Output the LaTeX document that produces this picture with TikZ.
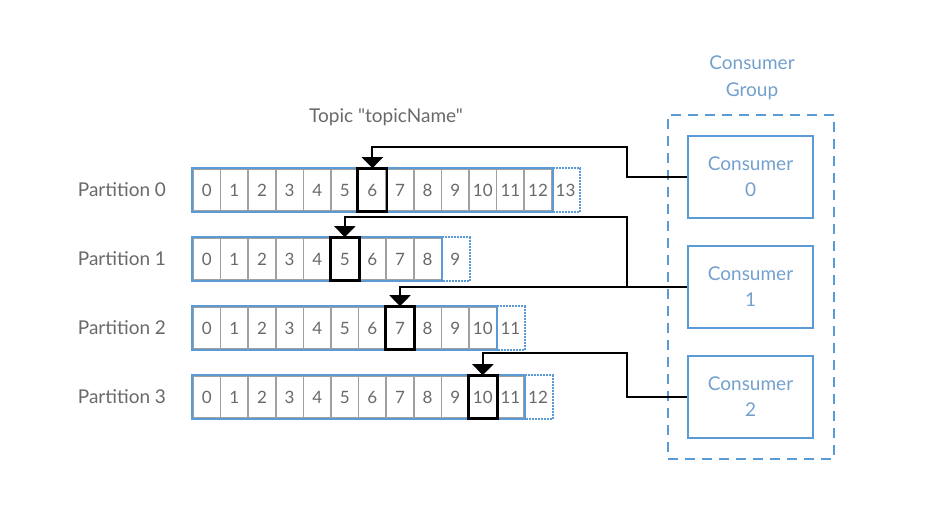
\documentclass[tikz,border=0pt]{standalone}
\usepackage{fontspec}
\setmainfont{Lato}[Ligatures=TeXOff]
\usetikzlibrary{arrows.meta,positioning}
\definecolor{kblue}{RGB}{91,155,213}
\definecolor{klight}{RGB}{115,160,205}
\definecolor{kgray}{RGB}{105,105,105}
\definecolor{kline}{RGB}{160,160,160}
\tikzset{
    cell/.style={draw=kline,line width=1.6pt,minimum width=27.6pt,minimum height=42pt,
        inner sep=0pt,text=kgray,font=\fontsize{17}{17}\selectfont},
    tailcell/.style={cell,draw=none},
    rowbox/.style={draw=kblue,line width=2pt},
    tailbox/.style={draw=kblue,line width=2pt,densely dotted},
    head/.style={draw=black,line width=2.8pt},
    link/.style={draw=black,line width=2pt},
    plabel/.style={text=kgray,inner sep=0pt,font=\fontsize{19}{19}\selectfont},
    consumer/.style={draw=kblue,line width=2.4pt,minimum width=125pt,minimum height=82pt,
        align=center,text=klight,font=\fontsize{19}{26}\selectfont},
}
\begin{document}
\begin{tikzpicture}[x=1pt,y=-1pt,>={Triangle[length=11pt,width=21pt]}]
        \useasboundingbox (0,0) rectangle (928,524);

        % partitions
        \foreach \i in {0,...,12} \node[cell] (p0c\i) at (206.8+27.6*\i,190) {\i};
        \node[tailcell] (p0c13) at (206.8+27.6*13,190) {13};
        \foreach \i in {0,...,8} \node[cell] (p1c\i) at (206.8+27.6*\i,259) {\i};
        \node[tailcell] (p1c9) at (206.8+27.6*9,259) {9};
        \foreach \i in {0,...,10} \node[cell] (p2c\i) at (206.8+27.6*\i,328) {\i};
        \node[tailcell] (p2c11) at (206.8+27.6*11,328) {11};
        \foreach \i in {0,...,11} \node[cell] (p3c\i) at (206.8+27.6*\i,397) {\i};
        \node[tailcell] (p3c12) at (206.8+27.6*12,397) {12};

        \draw[rowbox] (p0c0.north west) rectangle (p0c12.south east);
        \draw[rowbox] (p1c0.north west) rectangle (p1c8.south east);
        \draw[rowbox] (p2c0.north west) rectangle (p2c10.south east);
        \draw[rowbox] (p3c0.north west) rectangle (p3c11.south east);
        \draw[tailbox] (p0c12.north east) -| (p0c13.south east) -- (p0c12.south east);
        \draw[tailbox] (p1c8.north east) -| (p1c9.south east) -- (p1c8.south east);
        \draw[tailbox] (p2c10.north east) -| (p2c11.south east) -- (p2c10.south east);
        \draw[tailbox] (p3c11.north east) -| (p3c12.south east) -- (p3c11.south east);

        \node[plabel,left=26pt of p0c0.west] (l0) {Partition 0};
        \node[plabel,left=26pt of p1c0.west] (l1) {Partition 1};
        \node[plabel,left=26pt of p2c0.west] (l2) {Partition 2};
        \node[plabel,left=26pt of p3c0.west] (l3) {Partition 3};
        \node[plabel] (topic) at (386,117) {Topic "topicName"};

        % consumer group
        \node[draw=kblue,line width=2.6pt,dash pattern=on 10pt off 7pt,
            minimum width=166pt,minimum height=344pt] (group) at (751,287) {};
        \node[plabel,text=klight,align=center,font=\fontsize{19}{27}\selectfont]
            (gtitle) at (752,78) {Consumer\\Group};
        \node[consumer] (c0) at (750.5,177) {Consumer\\0};
        \node[consumer] (c1) at (750.5,287) {Consumer\\1};
        \node[consumer] (c2) at (750.5,397) {Consumer\\2};

        % current offsets
        \draw[head] (p0c6.north west) rectangle (p0c6.south east);
        \draw[head] (p1c5.north west) rectangle (p1c5.south east);
        \draw[head] (p2c7.north west) rectangle (p2c7.south east);
        \draw[head] (p3c10.north west) rectangle (p3c10.south east);

        \coordinate (bus0) at (627,147);
        \coordinate (bus1) at (627,217);
        \coordinate (bus3) at (627,353);
        \draw[link,->] (c0.west) -| (bus0) -| (p0c6.north);
        \draw[link,->] (c1.west) -| (bus1) -| (p1c5.north);
        \draw[link,->] (c1.west) -| (p2c7.north);
        \draw[link,->] (c2.west) -| (bus3) -| (p3c10.north);
\end{tikzpicture}
\end{document}
